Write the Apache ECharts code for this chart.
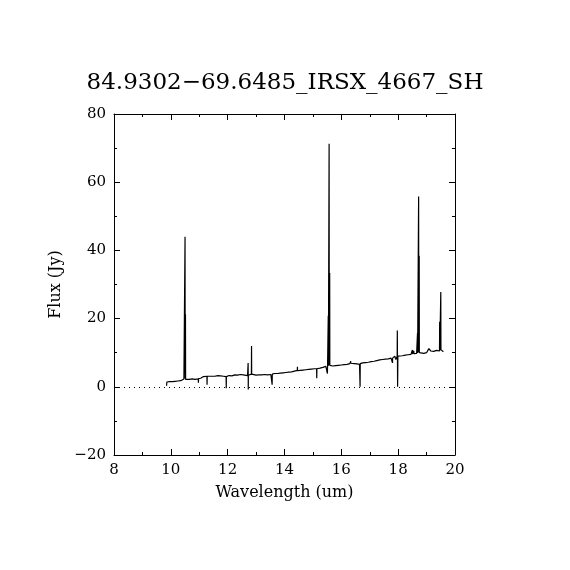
<!DOCTYPE html>
<html>
<head>
<meta charset="utf-8">
<script src="https://cdn.jsdelivr.net/npm/echarts@6/dist/echarts.min.js"></script>
<style>html,body{margin:0;padding:0;background:#fff}#c{width:570px;height:570px}</style>
</head>
<body>
<div id="c"></div>
<script>
const titleText = "84.9302\u221269.6485_IRSX_4667_SH";
const xLabel = "Wavelength (um)";
const yLabel = "Flux (Jy)";
const xTicks = [8, 10, 12, 14, 16, 18, 20];
const yTicks = [-20, 0, 20, 40, 60, 80];

const wavelength = [
 9.85, 9.86, 9.95, 10.05, 10.15, 10.25, 10.30, 10.305, 10.31, 10.35, 10.42, 10.46, 10.495, 10.50, 10.505,
 10.51, 10.515, 10.52, 10.55, 10.57, 10.65, 10.70, 10.75, 10.85, 10.965, 10.97, 10.975, 11.05, 11.15, 11.20,
 11.27, 11.275, 11.28, 11.35, 11.45, 11.55, 11.65, 11.75, 11.85, 11.945, 11.95, 11.955, 11.98, 12.05, 12.15,
 12.25, 12.35, 12.45, 12.55, 12.62, 12.70, 12.715, 12.72, 12.723, 12.725, 12.728, 12.78, 12.835, 12.84, 12.845,
 12.90, 13.00, 13.10, 13.20, 13.30, 13.40, 13.52, 13.56, 13.565, 13.57, 13.65, 13.75, 13.85, 13.95, 14.05,
 14.15, 14.25, 14.35, 14.45, 14.455, 14.46, 14.55, 14.65, 14.75, 14.85, 14.95, 15.05, 15.13, 15.135, 15.14,
 15.25, 15.35, 15.42, 15.455, 15.46, 15.465, 15.505, 15.51, 15.515, 15.535, 15.54, 15.545, 15.565, 15.57, 15.575,
 15.585, 15.59, 15.595, 15.62, 15.70, 15.80, 15.90, 16.00, 16.10, 16.20, 16.30, 16.325, 16.33, 16.335, 16.40,
 16.45, 16.50, 16.55, 16.60, 16.64, 16.655, 16.66, 16.665, 16.68, 16.75, 16.85, 16.95, 17.05, 17.15, 17.25,
 17.35, 17.45, 17.55, 17.65, 17.75, 17.795, 17.80, 17.805, 17.88, 17.92, 17.965, 17.97, 17.975, 17.98, 17.985,
 17.99, 18.05, 18.15, 18.25, 18.35, 18.45, 18.495, 18.50, 18.505, 18.545, 18.55, 18.555, 18.65, 18.675, 18.68,
 18.685, 18.715, 18.72, 18.725, 18.735, 18.74, 18.745, 18.80, 18.90, 19.00, 19.05, 19.08, 19.12, 19.15, 19.25,
 19.35, 19.42, 19.455, 19.46, 19.465, 19.495, 19.50, 19.505, 19.55, 19.59
];
const flux = [
 0.3, 1.4, 1.5, 1.5, 1.6, 1.7, 1.7, 1.2, 1.7, 1.8, 1.9, 2.3, 2.4, 44.0, 2.4,
 2.4, 21.3, 2.2, 2.6, 2.0, 2.2, 1.9, 2.3, 2.2, 2.3, 1.2, 2.4, 2.5, 3.0, 3.2,
 3.1, 0.6, 3.1, 3.2, 3.1, 3.1, 3.3, 3.2, 3.1, 3.0, -0.4, 3.0, 3.0, 3.3, 3.2,
 3.5, 3.4, 3.6, 3.5, 3.4, 3.3, 3.3, 7.0, 3.3, -0.8, 3.4, 3.6, 3.7, 12.0, 3.7,
 3.5, 3.4, 3.5, 3.5, 3.6, 3.5, 3.6, 3.8, 0.6, 3.7, 3.9, 3.9, 4.0, 4.1, 4.2,
 4.3, 4.4, 4.6, 4.8, 5.9, 4.7, 4.8, 4.9, 5.0, 5.1, 5.2, 5.3, 5.3, 2.5, 5.3,
 5.5, 5.7, 6.0, 6.0, 6.5, 6.0, 5.9, 3.9, 6.0, 6.1, 20.8, 6.2, 6.2, 71.3, 6.3,
 6.3, 33.4, 6.3, 6.0, 6.1, 6.2, 6.3, 6.4, 6.5, 6.6, 6.8, 6.8, 7.5, 6.9, 7.2,
 6.8, 7.1, 6.7, 7.0, 6.6, 6.8, 0.0, 6.8, 7.0, 7.0, 7.1, 7.2, 7.4, 7.5, 7.7,
 7.9, 8.0, 8.1, 8.2, 8.4, 8.4, 7.0, 8.4, 9.0, 8.0, 9.0, 16.5, 8.8, 0.0, 4.0,
 9.0, 8.9, 9.1, 9.3, 9.4, 9.5, 9.5, 10.8, 9.6, 9.6, 10.6, 9.7, 9.8, 9.8, 15.7,
 9.9, 10.0, 55.8, 10.1, 10.1, 38.4, 10.0, 9.7, 9.8, 10.0, 10.2, 11.2, 11.0, 10.5, 10.4,
 10.7, 10.5, 10.5, 19.1, 10.6, 10.6, 27.8, 10.9, 10.9, 10.3
];

const FONT = "DejaVu Serif";
const points = wavelength.map((w, i) => [w, flux[i]]);
const fmt = v => String(v).replace('-', '\u2212');

const chart = echarts.init(document.getElementById('c'), null, {renderer: 'canvas'});
const baseX = {
  type: 'value', min: xTicks[0], max: xTicks[xTicks.length - 1], interval: 2,
  splitLine: {show: false},
  axisLine: {show: true, onZero: false, lineStyle: {color: '#000', width: 1}},
  axisTick: {show: true, inside: true, length: 6, lineStyle: {color: '#000'}},
  minorTick: {show: true, splitNumber: 2, length: 3, lineStyle: {color: '#000'}},
  minorSplitLine: {show: false}
};
const baseY = {
  type: 'value', min: yTicks[0], max: yTicks[yTicks.length - 1], interval: 20,
  splitLine: {show: false},
  axisLine: {show: true, onZero: false, lineStyle: {color: '#000', width: 1}},
  axisTick: {show: true, inside: true, length: 6, lineStyle: {color: '#000'}},
  minorTick: {show: true, splitNumber: 2, length: 3, lineStyle: {color: '#000'}},
  minorSplitLine: {show: false}
};
chart.setOption({
  animation: false,
  backgroundColor: '#fff',
  title: {
    text: titleText, left: 'center', top: 67,
    textStyle: {fontFamily: FONT, fontSize: 23, fontWeight: 'normal', color: '#000'}
  },
  grid: {left: 114, right: 115, top: 114, bottom: 115},
  xAxis: [
    Object.assign({}, baseX, {
      position: 'bottom',
      name: xLabel, nameLocation: 'middle', nameGap: 30,
      nameTextStyle: {fontFamily: FONT, fontSize: 16, color: '#000'},
      axisLabel: {show: true, margin: 8, fontFamily: FONT, fontSize: 15, color: '#000', formatter: fmt}
    }),
    Object.assign({}, baseX, {position: 'top', axisLabel: {show: false}})
  ],
  yAxis: [
    Object.assign({}, baseY, {
      position: 'left',
      name: yLabel, nameLocation: 'middle', nameGap: 50, nameRotate: 90,
      nameTextStyle: {fontFamily: FONT, fontSize: 16, color: '#000'},
      axisLabel: {show: true, margin: 8, fontFamily: FONT, fontSize: 15, color: '#000', formatter: fmt}
    }),
    Object.assign({}, baseY, {position: 'right', axisLabel: {show: false}})
  ],
  series: [{
    type: 'line', data: points, xAxisIndex: 0, yAxisIndex: 0,
    showSymbol: false, symbol: 'none', sampling: null,
    lineStyle: {color: '#000', width: 1.2},
    markLine: {
      silent: true, symbol: 'none', label: {show: false},
      lineStyle: {color: '#000', type: [1, 4], width: 1},
      data: [{yAxis: 0}]
    }
  }]
});
</script>
</body>
</html>
